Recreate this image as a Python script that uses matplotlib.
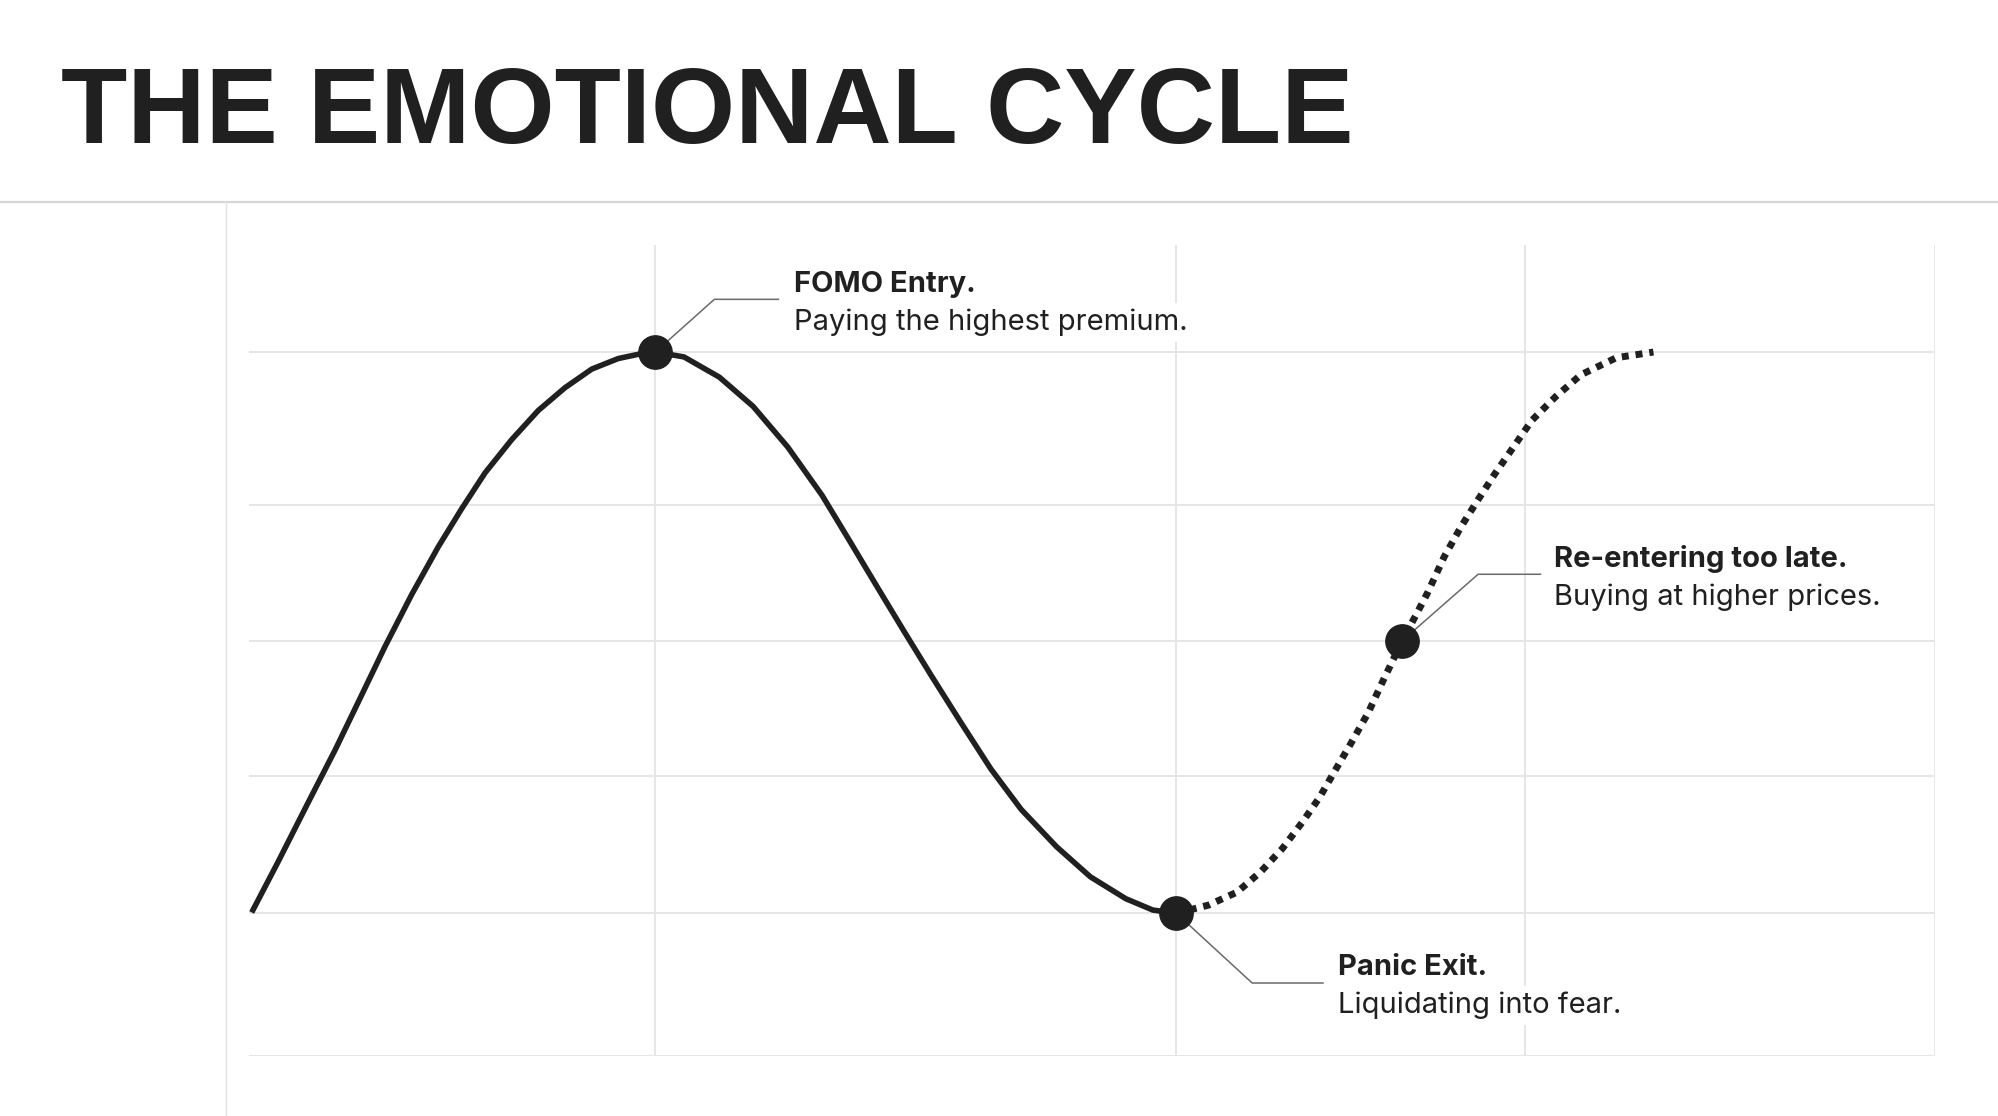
import numpy as np
import matplotlib
matplotlib.use("Agg")
import matplotlib.pyplot as plt

# chart units: x and y both run 0..100 across the grid area
grid_x = [24.1, 55.0, 75.7, 100]
grid_y = [0, 17.6, 34.5, 51.2, 67.9, 86.8]

# solid part: the run-up, the peak and the sell-off
solid_x = [0.16, 1.74, 3.52, 5.10, 6.68, 8.07, 9.65, 11.23, 12.62, 14.0, 15.58, 17.16,
           18.74, 20.33, 21.9, 23.5, 24.1,
           25.8, 27.9, 29.9, 31.95, 34.0, 35.6, 37.3, 38.9, 40.5, 42.2, 44.0, 45.8,
           47.9, 49.9, 52.0, 53.6, 55.0]
solid_y = [17.7, 24.0, 31.3, 37.7, 44.5, 50.5, 56.9, 62.8, 67.5, 71.9, 76.0, 79.6,
           82.4, 84.7, 86.0, 86.7, 86.8,
           86.2, 83.7, 80.1, 75.1, 69.1, 63.6, 57.7, 52.2, 46.8, 41.2, 35.4, 30.4,
           25.8, 22.1, 19.4, 18.0, 17.6]

# dotted part: the recovery that was missed
dotted_x = [55.0, 56.9, 58.6, 60.0, 61.3, 62.5, 63.5, 64.5, 65.4, 66.4, 67.2, 68.4,
            69.3, 69.9, 70.9, 71.9, 72.9, 73.9, 75.0, 76.1, 77.5, 79.0, 81.1, 83.3]
dotted_y = [17.6, 18.6, 20.2, 22.7, 25.6, 28.9, 31.9, 35.5, 38.7, 42.4, 46.0, 51.2,
            54.7, 57.1, 61.6, 65.3, 68.6, 71.8, 75.1, 78.4, 81.3, 84.0, 86.1, 86.8]

# key moments
point_x = [24.1, 55.0, 68.4]
point_y = [86.8, 17.6, 51.2]
titles = ["FOMO Entry.", "Panic Exit.", "Re-entering too late."]
subtitles = ["Paying the highest premium.", "Liquidating into fear.", "Buying at higher prices."]

# leader lines: elbow and end of the horizontal bit, then where the label starts
elbow = [(27.6, 93.3), (59.5, 9.0), (72.9, 59.4)]
leader_end = [31.4, 63.7, 76.6]
label_x = [32.3, 64.6, 77.4]
label_y = [94.2, 10.0, 60.3]

ink = "#202020"
W, H = 1999, 1116
fig = plt.figure(figsize=(W / 100, H / 100), dpi=100)
fig.patch.set_facecolor("white")

# header
fig.text(61 / W, 1 - 143 / H, "THE EMOTIONAL CYCLE", fontsize=78, fontweight="bold",
         family="Liberation Sans", color=ink, va="baseline", ha="left")
fig.add_artist(plt.Line2D([0, 1], [1 - 201.7 / H] * 2, color="#d6d6d6", lw=1.6))
fig.add_artist(plt.Line2D([225.6 / W] * 2, [0, 1 - 201.7 / H], color="#e2e2e2", lw=1.0))

ax = fig.add_axes([249 / W, 1 - 1056 / H, (1935 - 249) / W, (1056 - 245) / H])
ax.set_xlim(0, 100)
ax.set_ylim(0, 100)
for s in ax.spines.values():
    s.set_visible(False)
ax.set_xticks(grid_x)
ax.set_yticks(grid_y)
ax.tick_params(length=0, labelbottom=False, labelleft=False)
ax.grid(True, color="#e6e6e6", lw=1.4)
ax.set_axisbelow(True)

ax.plot(solid_x, solid_y, color=ink, lw=4.0, solid_capstyle="butt",
        solid_joinstyle="round", zorder=3)
ax.plot(dotted_x, dotted_y, color=ink, lw=5, linestyle=(0, (1, 1)),
        dash_capstyle="butt", zorder=3)
ax.plot(point_x, point_y, "o", color=ink, ms=24, zorder=5, clip_on=False)

for i in range(len(titles)):
    ex, ey = elbow[i]
    ax.plot([point_x[i], ex, leader_end[i]], [point_y[i], ey, ey],
            color="#6a6a6a", lw=1.1, zorder=4)
    bb = dict(facecolor="white", edgecolor="none", pad=4)
    ax.text(label_x[i], label_y[i], titles[i], fontsize=21, fontweight="bold",
            family=["Inter", "Liberation Sans"], color=ink, va="baseline", ha="left",
            bbox=bb, zorder=6)
    ax.text(label_x[i], label_y[i] - 4.7, subtitles[i], fontsize=21,
            family=["Inter", "Liberation Sans"], color=ink, va="baseline", ha="left",
            bbox=bb, zorder=6)

fig.savefig("out.png", dpi=100, facecolor="white")
